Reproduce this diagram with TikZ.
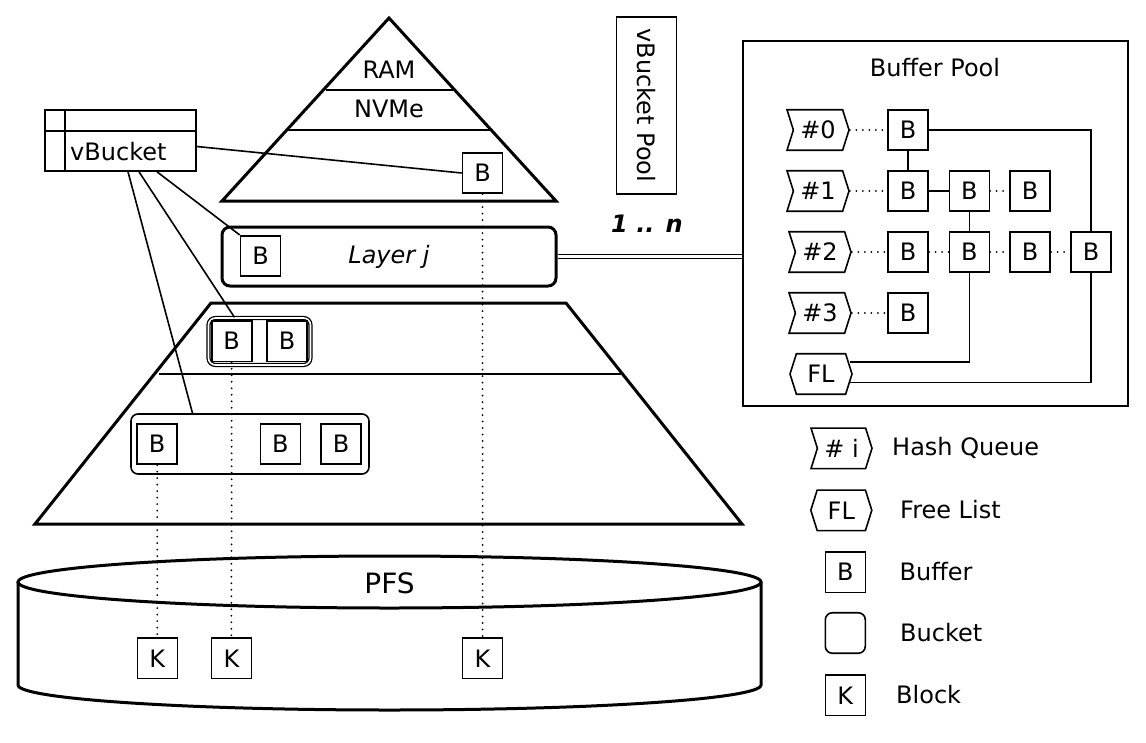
\documentclass[tikz,border=0pt]{standalone}
\usepackage{fontspec}
\setmainfont{DejaVu Sans}
\usetikzlibrary{shapes.symbols}
\begin{document}
\begin{tikzpicture}[x=1pt,y=-1pt,
  every node/.style={inner sep=0pt, font=\fontsize{24}{28}\selectfont},
  thinl/.style={line width=1.6pt},
  boldl/.style={line width=3pt},
  buf/.style={draw, line width=1.6pt, minimum width=40pt, minimum height=40.5pt, font=\fontsize{24}{28}\selectfont},
  bucket/.style={draw, line width=1.6pt, rounded corners=7pt},
  hq/.style={draw, line width=1.6pt, signal, signal to=east, signal from=west, signal pointer angle=145, minimum width=62pt, minimum height=40.5pt},
  flq/.style={draw, line width=1.6pt, signal, signal to=west and east, signal pointer angle=145, minimum width=62pt, minimum height=40.5pt},
  dots/.style={line width=2pt, line cap=round, dash pattern=on 0pt off 6.5pt},
  link/.style={line width=1.6pt},
]
\useasboundingbox (0,0) rectangle (1146,742);

% ---- top triangle
\draw[boldl] (389,18) -- (556,201) -- (222,201) -- cycle;
\draw[thinl] (326,90) -- (454,90);
\draw[thinl] (288,130) -- (491,130);
\node (ram) at (389,70) {RAM};
\node (nvme) at (389,109) {NVMe};
\node[buf] (bt) at (482.5,173) {B};

% ---- vBucket table
\node[draw, line width=1.6pt, minimum width=151pt, minimum height=61pt] (vb) at (120.5,140.5) {};
\draw[thinl] (65,110) -- (65,171);
\draw[thinl] (45,131) -- (196,131);
\node[anchor=west] (vbt) at (70,152) {vBucket};

% ---- layer j
\node[draw, boldl, rounded corners=8pt, minimum width=334pt, minimum height=59pt] (layer) at (389,256.5) {\itshape Layer j};
\node[buf] (bl) at (260.5,256) {B};

% ---- vBucket Pool label box
\node[draw, line width=1.6pt, rotate=-90, minimum width=177pt, minimum height=60pt] (vbp) at (646.4,105.4) {vBucket Pool};
\node (mult) at (647,224) {\bfseries\itshape 1 .. n};

% ---- trapezoid
\draw[boldl] (211,303) -- (566,303) -- (742,524) -- (35,524) -- cycle;
\draw[thinl] (159,374) -- (621,374);
\node[draw, double, double distance=1.6pt, line width=1.3pt, rounded corners=7pt, minimum width=102pt, minimum height=47pt] (ub) at (259.5,341.5) {};
\node[buf] (ub1) at (231.7,341.2) {B};
\node[buf] (ub2) at (287,341.2) {B};
\node[bucket, minimum width=238pt, minimum height=60pt] (lb) at (250,444) {};
\node[buf] (lb1) at (157.2,444) {B};
\node[buf] (lb2) at (280.4,444) {B};
\node[buf] (lb3) at (341.2,444) {B};

% ---- PFS cylinder
\draw[boldl] (389.5,582) ellipse[x radius=371.5pt, y radius=26pt];
\draw[boldl] (18,582) -- (18,685) arc[start angle=180, end angle=360, x radius=371.5pt, y radius=25pt] -- (761,582);
\node[font=\fontsize{28}{32}\selectfont] (pfs) at (389.5,583) {PFS};
\node[buf] (k1) at (157.3,658.3) {K};
\node[buf] (k2) at (231.4,658.3) {K};
\node[buf] (k3) at (482.6,658.3) {K};

% ---- vBucket connectors
\draw[link] ([shift={(0,6)}]vb.east) -- (bt.west);
\draw[link] ([shift={(36.5,0)}]vb.south) -- (bl.north west);
\draw[link] ([shift={(18.5,0)}]vb.south) -- ([shift={(-25,0)}]ub.north);
\draw[link] ([shift={(7.5,0)}]vb.south) -- ([shift={(-57.5,0)}]lb.north);

% ---- dotted block mapping
\draw[dots] (lb1.south) -- (k1.north);
\draw[dots] (ub1.south) -- (k2.north);
\draw[dots] (bt.south) -- (k3.north);

% ---- buffer pool
\node[draw, line width=1.6pt, minimum width=385pt, minimum height=365pt] (pool) at (935.4,223.6) {};
\node (pooltitle) at (935,68) {Buffer Pool};
\draw[line width=1.3pt, double, double distance=2.6pt] (layer.east) -- (layer.east -| pool.west);

\node[hq] (h0) at (818,130) {\#0};
\node[hq] (h1) at (818,191) {\#1};
\node[hq] (h2) at (820,252) {\#2};
\node[hq] (h3) at (820,313) {\#3};
\node[flq] (fl) at (821,374) {FL};

\node[buf] (b00) at (908.2,130) {B};
\node[buf] (b10) at (908.2,191) {B};
\node[buf] (b11) at (969.3,191) {B};
\node[buf] (b12) at (1030.2,191) {B};
\node[buf] (b20) at (908.2,252) {B};
\node[buf] (b21) at (969.3,252) {B};
\node[buf] (b22) at (1030.2,252) {B};
\node[buf] (b23) at (1091.2,252) {B};
\node[buf] (b30) at (908.2,313) {B};

\draw[dots] (h0.east) -- (b00.west);
\draw[dots] (h1.east) -- (b10.west);
\draw[dots] (h2.east) -- (b20.west);
\draw[dots] (h3.east) -- (b30.west);
\draw[dots] (b11.east) -- (b12.west);
\draw[dots] (b20.east) -- (b21.west);
\draw[dots] (b21.east) -- (b22.west);
\draw[dots] (b22.east) -- (b23.west);
\draw[link] (b00.south) -- (b10.north);
\draw[link] (b10.east) -- (b11.west);
\draw[link] (b11.south) -- (b21.north);
\draw[link] (b00.east) -| (b23.north);
\draw[link] ([shift={(-3,-12)}]fl.east) -| (b21.south);
\draw[link] ([shift={(-3,8.5)}]fl.east) -| (b23.south);

% ---- legend
\node[hq, minimum width=61pt] (lhq) at (841.5,448.3) {\# i};
\node[anchor=west] (lhqt) at (892,448) {Hash Queue};
\node[flq, minimum width=61pt] (lfl) at (841.3,510.3) {FL};
\node[anchor=west] (lflt) at (900,510) {Free List};
\node[buf] (lb) at (845.3,572.2) {B};
\node[anchor=west] (lbt) at (899.5,572) {Buffer};
\node[bucket, minimum width=40pt, minimum height=40.5pt] (lbk) at (845.3,633) {};
\node[anchor=west] (lbkt) at (900,633) {Bucket};
\node[buf] (lk) at (845.3,695.3) {K};
\node[anchor=west] (lkt) at (896,695) {Block};
\end{tikzpicture}
\end{document}
